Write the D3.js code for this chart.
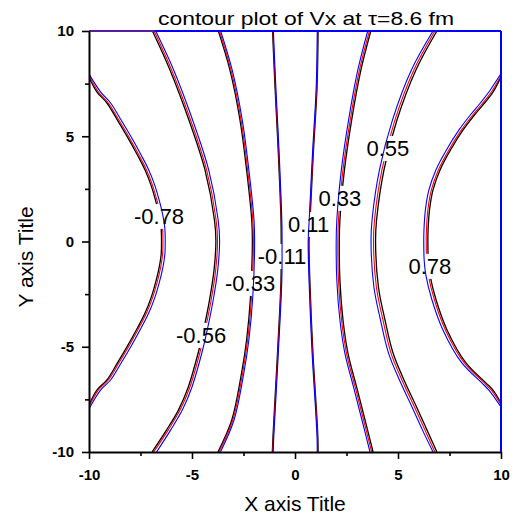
<!DOCTYPE html>
<html>
<head>
<meta charset="utf-8">
<script src="https://cdn.jsdelivr.net/npm/d3@7"></script>
<style>
  body { margin: 0; background: #fff; }
  svg { display: block; }
</style>
</head>
<body>
<svg id="chart" width="513" height="514"></svg>
<script>
// Contour levels of Vx and their label text
const levels = [-0.78, -0.56, -0.33, -0.11, 0.11, 0.33, 0.55, 0.78];

// Contour polylines, [x, y] in fm, one list per level (same order as levels)
const blackLines = [
  [[-10,7.81],[-9.61,7.10],[-9.13,6.58],[-8.62,5.77],[-8.13,4.96],[-7.65,4.11],[-7.28,3.40],[-6.99,2.68],[-6.75,1.88],[-6.60,1.26],[-6.50,0.64],[-6.48,0],[-6.50,-0.64],[-6.60,-1.26],[-6.75,-1.88],[-6.99,-2.68],[-7.28,-3.40],[-7.65,-4.11],[-8.13,-4.96],[-8.62,-5.77],[-9.13,-6.58],[-9.61,-7.05],[-10,-7.77]],
  [[-6.92,10],[-6.07,8.15],[-5.15,5.77],[-4.37,3.40],[-3.91,1.02],[-3.84,0.02],[-3.93,-1.35],[-4.15,-2.78],[-4.44,-4.20],[-4.69,-5.25],[-5.18,-6.91],[-5.66,-8.01],[-6.24,-8.96],[-6.94,-10]],
  [[-3.72,10],[-3.16,8.15],[-2.67,5.77],[-2.35,3.40],[-2.10,1.02],[-2.07,0.02],[-2.16,-2.64],[-2.35,-4.68],[-2.57,-6.11],[-3.07,-8.48],[-3.74,-10]],
  [[-1.09,10],[-0.97,7.34],[-0.81,4.20],[-0.68,1.02],[-0.67,0.02],[-0.68,-1.83],[-0.85,-5.30],[-1.00,-8.01],[-1.07,-9.29],[-1.10,-10]],
  [[1.12,10],[1.07,7.34],[0.89,4.20],[0.73,1.02],[0.68,0.02],[0.72,-1.83],[0.87,-5.30],[1.04,-8.01],[1.11,-9.29],[1.12,-10]],
  [[3.68,10],[3.20,8.15],[2.75,5.77],[2.40,3.40],[2.18,1.02],[2.15,0.02],[2.18,-1.83],[2.33,-3.73],[2.57,-5.30],[2.99,-6.91],[3.40,-8.48],[3.79,-10]],
  [[6.89,10],[5.87,8.15],[4.95,5.77],[4.32,3.40],[3.96,1.02],[3.91,0.02],[4.05,-2.16],[4.37,-3.73],[4.76,-5.30],[5.29,-6.58],[5.90,-7.86],[6.41,-8.96],[6.89,-10]],
  [[10,7.82],[9.61,7.10],[9.20,6.58],[8.71,6.01],[8.16,5.30],[7.55,4.35],[7.04,3.40],[6.70,2.45],[6.53,1.50],[6.46,0.55],[6.45,0.02],[6.47,-0.88],[6.55,-1.59],[6.85,-2.78],[7.38,-4.20],[8.30,-5.77],[9.27,-6.72],[9.61,-7.06],[10,-7.67]]
];

const redLines = [
  [[-10,7.87],[-9.54,7.10],[-9.06,6.58],[-8.55,5.77],[-8.06,4.96],[-7.58,4.11],[-7.21,3.40],[-6.92,2.68],[-6.68,1.88],[-6.53,1.26],[-6.43,0.64],[-6.41,0],[-6.43,-0.64],[-6.53,-1.26],[-6.68,-1.88],[-6.92,-2.68],[-7.21,-3.40],[-7.58,-4.11],[-8.06,-4.96],[-8.55,-5.77],[-9.06,-6.58],[-9.54,-7.05],[-10,-7.84]],
  [[-6.84,10],[-5.99,8.15],[-5.07,5.77],[-4.29,3.40],[-3.83,1.02],[-3.76,0.02],[-3.85,-1.35],[-4.07,-2.78],[-4.36,-4.20],[-4.61,-5.25],[-5.10,-6.91],[-5.58,-8.01],[-6.16,-8.96],[-6.86,-10]],
  [[-3.67,10],[-3.11,8.15],[-2.62,5.77],[-2.30,3.40],[-2.05,1.02],[-2.02,0.02],[-2.11,-2.64],[-2.30,-4.68],[-2.52,-6.11],[-3.02,-8.48],[-3.69,-10]],
  [[-1.07,10],[-0.95,7.34],[-0.79,4.20],[-0.66,1.02],[-0.65,0.02],[-0.66,-1.83],[-0.83,-5.30],[-0.98,-8.01],[-1.05,-9.29],[-1.08,-10]],
  [[1.10,10],[1.05,7.34],[0.87,4.20],[0.71,1.02],[0.66,0.02],[0.70,-1.83],[0.85,-5.30],[1.02,-8.01],[1.09,-9.29],[1.10,-10]],
  [[3.61,10],[3.13,8.15],[2.68,5.77],[2.33,3.40],[2.11,1.02],[2.08,0.02],[2.11,-1.83],[2.26,-3.73],[2.50,-5.30],[2.92,-6.91],[3.33,-8.48],[3.72,-10]],
  [[6.79,10],[5.77,8.15],[4.85,5.77],[4.22,3.40],[3.86,1.02],[3.81,0.02],[3.95,-2.16],[4.27,-3.73],[4.66,-5.30],[5.19,-6.58],[5.80,-7.86],[6.31,-8.96],[6.79,-10]],
  [[10,7.89],[9.53,7.10],[9.12,6.58],[8.63,6.01],[8.08,5.30],[7.47,4.35],[6.96,3.40],[6.62,2.45],[6.45,1.50],[6.38,0.55],[6.37,0.02],[6.39,-0.88],[6.47,-1.59],[6.77,-2.78],[7.30,-4.20],[8.22,-5.77],[9.19,-6.72],[9.53,-7.06],[10,-7.75]]
];

const blueLines = [
  [[-10,7.95],[-9.43,7.10],[-8.95,6.58],[-8.44,5.77],[-7.95,4.96],[-7.47,4.11],[-7.10,3.40],[-6.81,2.68],[-6.57,1.88],[-6.42,1.26],[-6.32,0.64],[-6.30,0],[-6.32,-0.64],[-6.42,-1.26],[-6.57,-1.88],[-6.81,-2.68],[-7.10,-3.40],[-7.47,-4.11],[-7.95,-4.96],[-8.44,-5.77],[-8.95,-6.58],[-9.43,-7.05],[-10,-7.95]],
  [[-6.76,10],[-5.89,8.15],[-4.97,5.77],[-4.19,3.40],[-3.73,1.02],[-3.66,0.02],[-3.75,-1.35],[-3.97,-2.78],[-4.26,-4.20],[-4.51,-5.25],[-5.00,-6.91],[-5.47,-8.01],[-6.04,-8.96],[-6.72,-10]],
  [[-3.61,10],[-3.05,8.15],[-2.56,5.77],[-2.24,3.40],[-1.99,1.02],[-1.96,0.02],[-2.05,-2.64],[-2.24,-4.68],[-2.46,-6.11],[-2.96,-8.48],[-3.62,-10]],
  [[-1.05,10],[-0.93,7.34],[-0.77,4.20],[-0.64,1.02],[-0.63,0.02],[-0.64,-1.83],[-0.81,-5.30],[-0.96,-8.01],[-1.03,-9.29],[-1.06,-10]],
  [[1.08,10],[1.03,7.34],[0.85,4.20],[0.69,1.02],[0.64,0.02],[0.68,-1.83],[0.83,-5.30],[1.00,-8.01],[1.07,-9.29],[1.08,-10]],
  [[3.53,10],[3.05,8.15],[2.60,5.77],[2.25,3.40],[2.03,1.02],[2.00,0.02],[2.03,-1.83],[2.18,-3.73],[2.42,-5.30],[2.84,-6.91],[3.25,-8.48],[3.64,-10]],
  [[6.70,10],[5.65,8.15],[4.73,5.77],[4.10,3.40],[3.74,1.02],[3.69,0.02],[3.83,-2.16],[4.15,-3.73],[4.54,-5.30],[5.07,-6.58],[5.68,-7.86],[6.19,-8.96],[6.70,-10]],
  [[10,7.98],[9.41,7.10],[9.00,6.58],[8.51,6.01],[7.96,5.30],[7.35,4.35],[6.84,3.40],[6.50,2.45],[6.33,1.50],[6.26,0.55],[6.25,0.02],[6.27,-0.88],[6.35,-1.59],[6.65,-2.78],[7.18,-4.20],[8.10,-5.77],[9.07,-6.72],[9.41,-7.06],[10,-7.86]]
];

// Where each level's label sits (label centre, in fm)
const labelAnchors = [[-6.60,1.21],[-4.56,-4.44],[-2.18,-1.97],[-0.63,-0.69],[0.66,0.83],[2.18,2.07],[4.51,4.44],[6.55,-1.16]];

// Axis ticks
const majorTicks = [-10, -5, 0, 5, 10];
const minorTicks = [-7.5, -2.5, 2.5, 7.5];

const FONT = "'Liberation Sans', Arial, Helvetica, sans-serif";
const svg = d3.select("#chart");

const x = d3.scaleLinear().domain([-10, 10]).range([89, 501]);
const y = d3.scaleLinear().domain([-10, 10]).range([452, 31]);

svg.append("defs").append("clipPath").attr("id", "plotClip")
  .append("rect")
  .attr("x", x(-10)).attr("y", y(10))
  .attr("width", x(10) - x(-10)).attr("height", y(-10) - y(10));

const line = d3.line()
  .x(d => x(d[0]))
  .y(d => y(d[1]))
  .curve(d3.curveCatmullRom.alpha(0.5));

const plot = svg.append("g").attr("clip-path", "url(#plotClip)");

function drawSet(lines, colour, width) {
  plot.append("g")
    .selectAll("path")
    .data(lines)
    .join("path")
    .attr("d", line)
    .attr("fill", "none")
    .attr("stroke", colour)
    .attr("stroke-width", width)
    .attr("stroke-linejoin", "round");
}

// black and red sets are broken by the label knock-outs, blue runs through them
drawSet(blackLines, "#000000", 1.3);
drawSet(redLines, "#ff0000", 1.1);
const knockouts = plot.append("g");
drawSet(blueLines, "#0000ff", 1.1);

// Level labels
const labelText = svg.append("g")
  .selectAll("text")
  .data(levels)
  .join("text")
  .attr("x", (d, i) => x(labelAnchors[i][0]))
  .attr("y", (d, i) => y(labelAnchors[i][1]))
  .attr("dy", "0.36em")
  .attr("text-anchor", "middle")
  .attr("font-family", FONT)
  .attr("font-size", 22)
  .attr("fill", "#000")
  .text(d => d.toFixed(2));

labelText.each(function () {
  const bb = this.getBBox();
  knockouts.append("rect")
    .attr("x", bb.x - 1).attr("y", bb.y)
    .attr("width", bb.width + 2).attr("height", bb.height)
    .attr("fill", "#fff");
});

// Frame: top and right edges
const frame = svg.append("g");
frame.append("line")
  .attr("x1", x(-10)).attr("x2", x(10))
  .attr("y1", y(10)).attr("y2", y(10))
  .attr("stroke", "#0000ff").attr("stroke-width", 2);
frame.append("line")
  .attr("x1", x(-10)).attr("x2", x(-6.8))
  .attr("y1", y(10)).attr("y2", y(10))
  .attr("stroke", "#5a189c").attr("stroke-width", 2);
frame.append("line")
  .attr("x1", x(10)).attr("x2", x(10))
  .attr("y1", y(10)).attr("y2", y(-10))
  .attr("stroke", "#0000ff").attr("stroke-width", 2);

// Axes
function styleAxis(g) {
  g.select(".domain").attr("stroke", "#000").attr("stroke-width", 2);
  g.selectAll(".tick line").attr("stroke", "#000").attr("stroke-width", 1.6);
  g.selectAll(".tick text")
    .attr("font-family", FONT)
    .attr("font-size", 15)
    .attr("font-weight", "bold")
    .attr("fill", "#000");
}

svg.append("g")
  .attr("transform", `translate(0,${y(-10)})`)
  .call(d3.axisBottom(x).tickValues(minorTicks).tickSize(4).tickSizeOuter(0).tickFormat(""))
  .call(g => g.select(".domain").remove())
  .call(styleAxis);
svg.append("g")
  .attr("transform", `translate(${x(-10)},0)`)
  .call(d3.axisLeft(y).tickValues(minorTicks).tickSize(4).tickSizeOuter(0).tickFormat(""))
  .call(g => g.select(".domain").remove())
  .call(styleAxis);

svg.append("g")
  .attr("transform", `translate(0,${y(-10)})`)
  .call(d3.axisBottom(x).tickValues(majorTicks).tickSize(7).tickSizeOuter(0)
    .tickPadding(10).tickFormat(d => String(d)))
  .call(styleAxis);
svg.append("g")
  .attr("transform", `translate(${x(-10)},0)`)
  .call(d3.axisLeft(y).tickValues(majorTicks).tickSize(7).tickSizeOuter(0)
    .tickPadding(8).tickFormat(d => String(d)))
  .call(styleAxis);

// Titles
svg.append("text")
  .attr("x", 158).attr("y", 25)
  .attr("font-family", FONT).attr("font-size", 19)
  .attr("textLength", 296).attr("lengthAdjust", "spacingAndGlyphs")
  .attr("fill", "#000")
  .text("contour plot of Vx at \u03c4=8.6 fm");

svg.append("text")
  .attr("x", 295).attr("y", 511)
  .attr("text-anchor", "middle")
  .attr("font-family", FONT).attr("font-size", 21)
  .attr("fill", "#000")
  .text("X axis Title");

svg.append("text")
  .attr("transform", "translate(33,257) rotate(-90)")
  .attr("text-anchor", "middle")
  .attr("font-family", FONT).attr("font-size", 21)
  .attr("fill", "#000")
  .text("Y axis Title");
</script>
</body>
</html>
